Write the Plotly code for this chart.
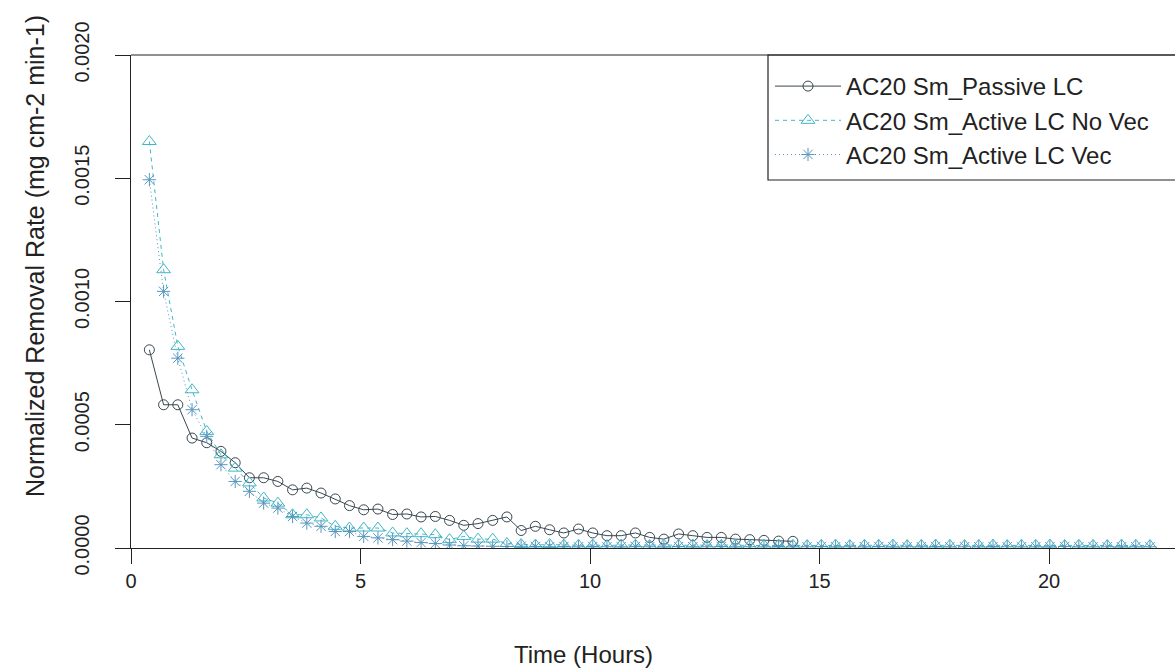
import plotly.graph_objects as go

# Sampling times (hours)
time_h = [0.40, 0.71, 1.02, 1.33, 1.65, 1.96, 2.27, 2.58, 2.89, 3.20,
          3.52, 3.83, 4.14, 4.45, 4.76, 5.07, 5.38, 5.70, 6.01, 6.32,
          6.63, 6.94, 7.25, 7.56, 7.88, 8.19, 8.50, 8.81, 9.12, 9.43,
          9.75, 10.06, 10.37, 10.68, 10.99, 11.30, 11.61, 11.93, 12.24, 12.55,
          12.86, 13.17, 13.48, 13.79, 14.11, 14.42, 14.73, 15.04, 15.35, 15.66,
          15.98, 16.29, 16.60, 16.91, 17.22, 17.53, 17.84, 18.16, 18.47, 18.78,
          19.09, 19.40, 19.71, 20.02, 20.34, 20.65, 20.96, 21.27, 21.58, 21.89,
          22.20]

# Normalized removal rate (mg cm-2 min-1)
passive_lc = [0.000804, 0.000581, 0.000581, 0.000446, 0.000427, 0.000392, 0.000346, 0.000285, 0.000285, 0.000270,
              0.000236, 0.000243, 0.000223, 0.000199, 0.000172, 0.000155, 0.000158, 0.000136, 0.000138, 0.000126,
              0.000128, 0.000112, 0.000092, 0.000099, 0.000112, 0.000126, 0.000071, 0.000088, 0.000074, 0.000061,
              0.000077, 0.000061, 0.000050, 0.000050, 0.000061, 0.000043, 0.000036, 0.000057, 0.000050, 0.000043,
              0.000043, 0.000036, 0.000034, 0.000031, 0.000028, 0.000027]

active_no_vec = [0.001649, 0.001129, 0.000818, 0.000642, 0.000473, 0.000378, 0.000324, 0.000264, 0.000203, 0.000182,
                 0.000135, 0.000135, 0.000122, 0.000088, 0.000081, 0.000081, 0.000081, 0.000061, 0.000058, 0.000058,
                 0.000054, 0.000034, 0.000047, 0.000036, 0.000036, 0.000018, 0.000014, 0.000012, 0.000014, 0.000012,
                 0.000011, 0.000012, 0.000010, 0.000012, 0.000011, 0.000010, 0.000012, 0.000011, 0.000012, 0.000010,
                 0.000011, 0.000012, 0.000010, 0.000011, 0.000012, 0.000011, 0.000010, 0.000011, 0.000012, 0.000010,
                 0.000011, 0.000011, 0.000012, 0.000010, 0.000011, 0.000012, 0.000011, 0.000010, 0.000011, 0.000012,
                 0.000010, 0.000011, 0.000011, 0.000012, 0.000010, 0.000011, 0.000011, 0.000010, 0.000012, 0.000011,
                 0.000010]

active_vec = [0.001494, 0.001041, 0.000770, 0.000561, 0.000453, 0.000338, 0.000270, 0.000230, 0.000182, 0.000162,
              0.000128, 0.000101, 0.000088, 0.000067, 0.000067, 0.000047, 0.000041, 0.000034, 0.000028, 0.000022,
              0.000018, 0.000012, 0.000009, 0.000008, 0.000007, 0.000006, 0.000007, 0.000006, 0.000005, 0.000006,
              0.000005, 0.000006, 0.000005, 0.000005, 0.000006, 0.000005, 0.000005, 0.000006, 0.000005, 0.000005,
              0.000006, 0.000005, 0.000005, 0.000005, 0.000006, 0.000005, 0.000005, 0.000006, 0.000005, 0.000005,
              0.000005, 0.000006, 0.000005, 0.000005, 0.000005, 0.000006, 0.000005, 0.000005, 0.000005, 0.000006,
              0.000005, 0.000005, 0.000005, 0.000005, 0.000006, 0.000005, 0.000005, 0.000005, 0.000005, 0.000005,
              0.000005]

series_names = ["AC20 Sm_Passive LC", "AC20 Sm_Active LC No Vec", "AC20 Sm_Active LC Vec"]
x_ticks = [0, 5, 10, 15, 20]
y_ticks = [0.0, 0.0005, 0.0010, 0.0015, 0.0020]
y_tick_text = ["0.0000", "0.0005", "0.0010", "0.0015", "0.0020"]

FONT = "Liberation Sans, Arial, sans-serif"
INK = "#222"
C_PASSIVE = "#39474f"
C_NOVEC = "#3fb7c4"
C_VEC = "#5896bd"

fig = go.Figure()
fig.add_trace(go.Scatter(
    x=time_h[:len(passive_lc)], y=passive_lc, name=series_names[0], mode="lines+markers",
    line=dict(color=C_PASSIVE, width=1, dash="solid"),
    marker=dict(symbol="circle-open", size=10, color=C_PASSIVE, line=dict(width=1, color=C_PASSIVE)),
))
fig.add_trace(go.Scatter(
    x=time_h[:len(active_no_vec)], y=active_no_vec, name=series_names[1], mode="lines+markers",
    line=dict(color=C_NOVEC, width=1, dash="4px,4px"),
    marker=dict(symbol="triangle-up-open", size=12, color=C_NOVEC, line=dict(width=1, color=C_NOVEC)),
))
fig.add_trace(go.Scatter(
    x=time_h[:len(active_vec)], y=active_vec, name=series_names[2], mode="lines+markers",
    line=dict(color=C_VEC, width=1, dash="1px,3px"),
    marker=dict(symbol="asterisk-open", size=11, color=C_VEC, line=dict(width=1, color=C_VEC)),
))

W, H = 1175, 672
L, R, T, B = 131, 0, 55, 124
plot_w = W - L - R
plot_h = H - T - B


def px_x(px):
    return (px - L) / plot_w


def px_y(py):
    return 1 - (py - T) / plot_h


# Legend frame (runs off the right edge) and top border of the plot box
fig.add_shape(type="rect", xref="paper", yref="paper",
              x0=px_x(768), x1=1.05, y0=px_y(180), y1=1.0,
              line=dict(color=INK, width=1.2), fillcolor="white", layer="below")
fig.add_shape(type="line", xref="paper", yref="paper",
              x0=0, x1=1.05, y0=1, y1=1, line=dict(color=INK, width=1.2))

fig.add_annotation(text="Time (Hours)", xref="paper", yref="paper",
                   x=px_x(583), y=px_y(654), xanchor="center", yanchor="middle", showarrow=False,
                   font=dict(family=FONT, size=24, color=INK))
fig.add_annotation(text="Normalized Removal Rate (mg cm-2 min-1)", xref="paper", yref="paper",
                   x=px_x(35), y=px_y(256), xanchor="center", yanchor="middle",
                   showarrow=False, textangle=-90,
                   font=dict(family=FONT, size=25, color=INK))

fig.update_layout(
    width=W, height=H,
    margin=dict(l=L, r=R, t=T, b=B, pad=0),
    paper_bgcolor="white", plot_bgcolor="white",
    font=dict(family=FONT, color=INK),
    showlegend=True,
    legend=dict(x=px_x(770), y=px_y(64), xanchor="left", yanchor="top",
                bgcolor="rgba(0,0,0,0)", borderwidth=0, itemwidth=66,
                font=dict(family=FONT, size=24, color=INK), tracegroupgap=0),
    xaxis=dict(range=[0, (W - L) / 45.9], tickmode="array", tickvals=x_ticks,
               ticks="outside", ticklen=15, tickwidth=1.2, tickcolor=INK,
               showline=True, linecolor=INK, linewidth=1.2, showgrid=False, zeroline=False,
               tickfont=dict(family=FONT, size=20, color=INK), ticklabelstandoff=0),
    yaxis=dict(range=[0, 0.002], tickmode="array", tickvals=y_ticks, ticktext=y_tick_text,
               ticks="outside", ticklen=15, tickwidth=1.2, tickcolor=INK, tickangle=-90,
               showline=True, linecolor=INK, linewidth=1.2, showgrid=False, zeroline=False,
               tickfont=dict(family=FONT, size=20, color=INK), ticklabelstandoff=18),
)

fig.write_html("out.html")
